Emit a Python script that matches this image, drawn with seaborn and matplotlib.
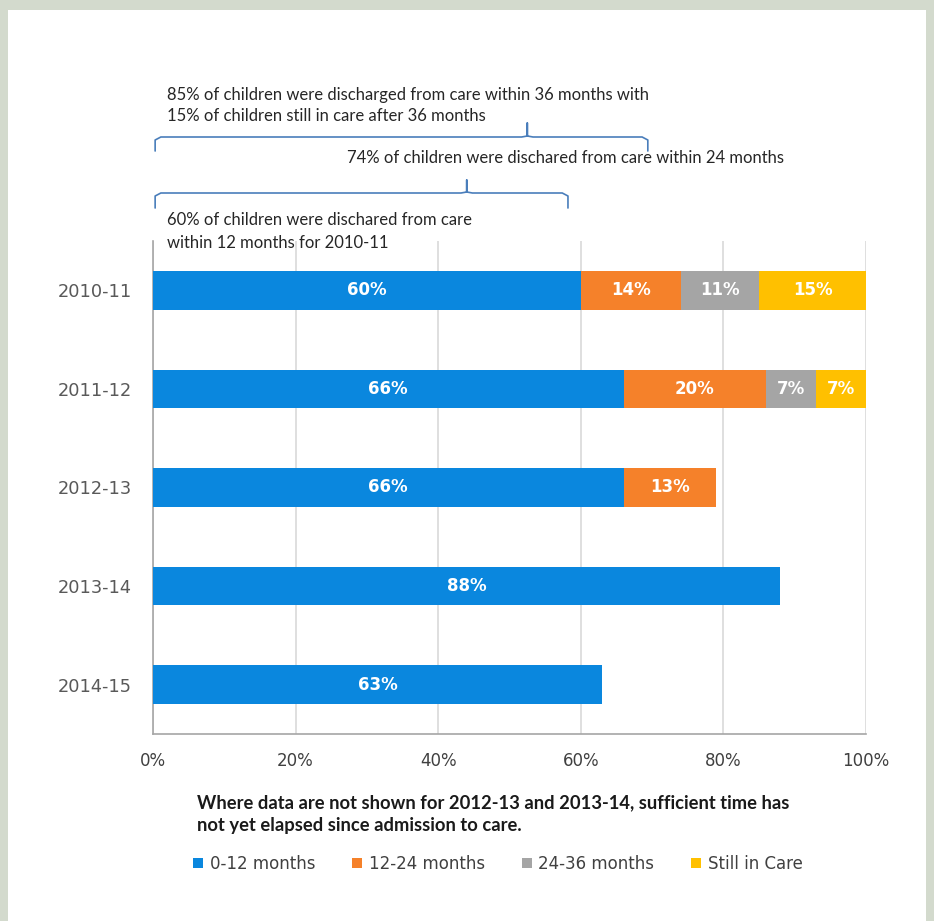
import numpy as np
import pandas as pd
import matplotlib
matplotlib.use("Agg")
import matplotlib.pyplot as plt
import matplotlib.transforms as mtransforms
from matplotlib.patches import Patch, Rectangle
import seaborn as sns

periods = ["2010-11", "2011-12", "2012-13", "2013-14", "2014-15"]
months_0_12 = [60, 66, 66, 88, 63]
months_12_24 = [14, 20, 13, np.nan, np.nan]
months_24_36 = [11, 7, np.nan, np.nan, np.nan]
still_in_care = [15, 7, np.nan, np.nan, np.nan]

series_names = ["0-12 months", "12-24 months", "24-36 months", "Still in Care"]
series_colors = ["#0a87de", "#f5812a", "#a5a5a5", "#ffc000"]
x_ticks = [0, 20, 40, 60, 80, 100]

W, H = 934, 921

sns.set_theme(style="white")
plt.rcParams["font.family"] = ["DejaVu Sans"]

fig = plt.figure(figsize=(W / 100, H / 100), dpi=100)
fig.patch.set_facecolor("#d3dacd")
fig.patches.append(Rectangle((8 / W, 0), (W - 16) / W, (H - 10) / H,
                             transform=fig.transFigure, facecolor="white",
                             edgecolor="none", zorder=-5))

ax = fig.add_axes([153 / W, (H - 734) / H, 713 / W, 493 / H])
ax.set_facecolor("white")

# stacked bars drawn as overlaid cumulative totals, widest first
values = np.array([months_0_12, months_12_24, months_24_36, still_in_care], dtype=float)
cum = np.cumsum(np.nan_to_num(values), axis=0)
for i in range(3, -1, -1):
    mask = ~np.isnan(values[i])
    df = pd.DataFrame({"period": np.array(periods)[mask], "total": cum[i][mask]})
    sns.barplot(data=df, x="total", y="period", order=periods, orient="h",
                color=series_colors[i], saturation=1, width=0.39,
                linewidth=0, ax=ax, zorder=3)

# segment labels
for i in range(4):
    for j, p in enumerate(periods):
        v = values[i][j]
        if np.isnan(v):
            continue
        center = cum[i][j] - v / 2
        ax.text(center, j, f"{v:.0f}%", ha="center", va="center",
                color="white", fontsize=12, fontweight="bold", zorder=5)

ax.set_xlim(0, 100)
ax.set_ylim(4.5, -0.5)
ax.set_xticks(x_ticks)
ax.set_xticklabels([f"{t}%" for t in x_ticks])
ax.xaxis.grid(True, color="#d9d9d9", linewidth=1.2, zorder=0)
ax.set_axisbelow(True)
ax.set_xlabel("")
ax.set_ylabel("")
for s in ["top", "right"]:
    ax.spines[s].set_visible(False)
for s in ["left", "bottom"]:
    ax.spines[s].set_color("#a6a6a6")
    ax.spines[s].set_linewidth(1.2)
ax.tick_params(axis="x", length=0, pad=13, labelsize=12, labelcolor="#404040")
ax.tick_params(axis="y", length=0, pad=15, labelsize=12.8, labelcolor="#595959")


def fy(ypix):
    return 1 - ypix / H


def fx(xpix):
    return xpix / W


# brackets over the first bar (x in data units, y in figure units)
blend = mtransforms.blended_transform_factory(ax.transData, fig.transFigure)


def bracket(x0, x1, xc, y_line, y_end, y_tick, r=0.8):
    xs = [x0, x0, x0 + r, xc - r, xc, xc, xc, xc + r, x1 - r, x1, x1]
    ys = [y_end, y_line + 3, y_line, y_line, y_line - 1, y_tick, y_line - 1,
          y_line, y_line, y_line + 3, y_end]
    ax.plot(xs, [fy(v) for v in ys], transform=blend, color="#4a7ebb",
            linewidth=1.2, clip_on=False, solid_joinstyle="round")


bracket(0.3, 69.4, 52.5, 137, 151, 123)
bracket(0.3, 58.2, 44.0, 193, 208, 180)

note_font = ["Lato", "DejaVu Sans"]
ann = dict(fontsize=12, color="#262626", family=note_font, va="center", ha="left")
fig.text(fx(167), fy(95), "85% of children were discharged from care within 36 months with", **ann)
fig.text(fx(167), fy(116), "15% of children still in care after 36 months", **ann)
fig.text(fx(347), fy(158), "74% of children were dischared from care within 24 months", **ann)
fig.text(fx(167), fy(220), "60% of children were dischared from care", **ann)
fig.text(fx(167), fy(243), "within 12 months for 2010-11", **ann)

note = dict(fontsize=13.2, color="#1a1a1a", family=note_font, fontweight="bold",
            va="center", ha="left")
fig.text(fx(197), fy(803), "Where data are not shown for 2012-13 and 2013-14, sufficient time has", **note)
fig.text(fx(197), fy(826), "not yet elapsed since admission to care.", **note)

handles = [Patch(facecolor=c, edgecolor="none") for c in series_colors]
fig.legend(handles, series_names, loc="center", bbox_to_anchor=(fx(498), fy(864)),
           ncol=4, frameon=False, fontsize=12, labelcolor="#404040",
           handlelength=0.6, handleheight=0.6, handletextpad=0.4, columnspacing=2.2)

fig.savefig("out.png", dpi=100, facecolor=fig.get_facecolor())
